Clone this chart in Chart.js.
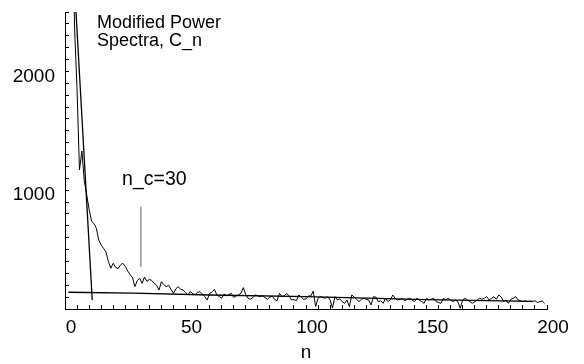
<!DOCTYPE html>
<html><head><meta charset="utf-8">
<script src="https://cdn.jsdelivr.net/npm/chart.js@4.4.1/dist/chart.umd.min.js"></script>
<style>html,body{margin:0;padding:0;background:#fff}canvas{display:block}</style>
</head><body>
<canvas id="c" width="584" height="364"></canvas>
<script>
// ---- data ----
const nValues = [1,2,3,4,5,6,7,8,9,10,11,12,13,14,15,16,17,18,19,20,
21,22,23,24,25,26,27,28,29,30,31,32,33,34,35,36,37,38,39,40,
41,42,43,44,45,46,47,48,49,50,51,52,53,54,55,56,57,58,59,60,
61,62,63,64,65,66,67,68,69,70,71,72,73,74,75,76,77,78,79,80,
81,82,83,84,85,86,87,88,89,90,91,92,93,94,95,96,97,98,99,100,
101,102,103,104,105,106,107,108,109,110,111,112,113,114,115,116,117,118,119,120,
121,122,123,124,125,126,127,128,129,130,131,132,133,134,135,136,137,138,139,140,
141,142,143,144,145,146,147,148,149,150,151,152,153,154,155,156,157,158,159,160,
161,162,163,164,165,166,167,168,169,170,171,172,173,174,175,176,177,178,179,180,
181,182,183,184,185,186,187,188,189,190,191,192,193,194,195,196,197,198,199];
const spectrumC = [9000,5500,3400,2350,1850,1170,1330,1080,960,840,
740,720,680,580,540,510,480,400,343,385,
350,340,370,385,360,320,290,265,188,240,
258,216,268,232,250,240,216,200,160,230,
205,188,200,165,132,170,188,165,160,140,
118,146,130,120,140,146,125,104,76,132,
140,166,118,104,90,126,112,120,132,98,
110,120,132,180,120,90,82,98,118,110,
104,112,95,82,100,108,80,70,132,104,
112,130,110,76,80,70,118,100,82,84,
110,110,150,20,90,104,96,90,104,76,
8,104,76,86,62,48,76,20,118,100,
80,62,82,90,82,76,34,104,100,62,
70,48,90,62,76,118,90,76,80,90,
70,82,90,76,62,90,76,62,48,90,
76,82,90,62,55,48,90,76,90,76,
62,76,62,6,76,90,76,62,48,62,
76,90,82,90,104,76,90,104,82,118,
100,62,76,48,82,90,104,76,70,62,
68,62,65,62,70,55,62,68,48];
const steepFitN = [4.56, 11.3];
const steepFitC = [2500, 76];
const flatFitN = [1.4, 28, 60, 100, 150, 194];
const flatFitC = [141, 133, 118, 104, 79, 64];
const markerN = [31.5, 31.5];
const markerC = [356, 861];
const xTickLabels = [0, 50, 100, 150, 200];
const yTickLabels = [1000, 2000];
const titleLines = ['Modified Power', 'Spectra, C_n'];
const markerLabel = 'n_c=30';
const xAxisTitle = 'n';

const pts = (xs, ys) => xs.map((x, i) => ({x: x, y: ys[i]}));
const FONT = '"Liberation Sans", Arial, sans-serif';

const textPlugin = {
  id: 'texts',
  afterDatasetsDraw(chart, args, opts) {
    const ctx = chart.ctx, xs = chart.scales.x, ys = chart.scales.y;
    ctx.save();
    ctx.fillStyle = '#000';
    ctx.textBaseline = 'alphabetic';
    ctx.textAlign = 'left';
    opts.items.forEach(it => {
      ctx.font = it.size + 'px ' + FONT;
      const px = xs.getPixelForValue(it.n), py = ys.getPixelForValue(it.c);
      it.lines.forEach((ln, i) => ctx.fillText(ln, px, py + i * it.lh));
    });
    ctx.restore();
  }
};

const lineDs = (data, color, w) => ({data, borderColor: color, borderWidth: w, pointRadius: 0, tension: 0, fill: false});

new Chart(document.getElementById('c'), {
  type: 'line',
  data: {
    datasets: [
      lineDs(pts(nValues, spectrumC), '#000', 1),
      lineDs(pts(steepFitN, steepFitC), '#000', 1.3),
      lineDs(pts(flatFitN, flatFitC), '#000', 1.3),
      lineDs(pts(markerN, markerC), '#555', 1)
    ]
  },
  plugins: [textPlugin],
  options: {
    responsive: false,
    animation: false,
    devicePixelRatio: 1,
    layout: {padding: {top: 12, right: 37, left: 0, bottom: 0}},
    plugins: {
      legend: {display: false},
      tooltip: {enabled: false},
      texts: {items: [
        {lines: titleLines, n: 13.3, c: 2365, lh: 18, size: 18},
        {lines: [markerLabel], n: 23.7, c: 1044, lh: 18, size: 19.5}
      ]}
    },
    scales: {
      x: {
        type: 'linear', min: 0, max: 200,
        afterFit: s => { s.height = 55; s.paddingLeft = 0; s.paddingRight = 0; },
        border: {display: true, color: '#000', width: 1},
        grid: {drawOnChartArea: false, drawTicks: true, tickLength: -4, color: '#000'},
        ticks: {
          stepSize: 5, autoSkip: false, maxRotation: 0, padding: 11, labelOffset: 6,
          color: '#000', font: {family: FONT, size: 19},
          callback: v => xTickLabels.includes(v) ? String(v) : ''
        },
        title: {display: true, text: xAxisTitle, color: '#000', font: {family: FONT, size: 19}, padding: {top: 0, bottom: 0}}
      },
      y: {
        type: 'linear', min: 0, max: 2500,
        afterFit: s => { s.width = 65; s.paddingTop = 0; s.paddingBottom = 0; },
        border: {display: true, color: '#000', width: 1},
        grid: {drawOnChartArea: false, drawTicks: true, tickLength: -4, color: '#000'},
        ticks: {
          stepSize: 100, autoSkip: false, padding: 14, labelOffset: 5,
          color: '#000', font: {family: FONT, size: 19},
          callback: v => yTickLabels.includes(v) ? String(v) : ''
        }
      }
    }
  }
});
</script>
</body></html>
